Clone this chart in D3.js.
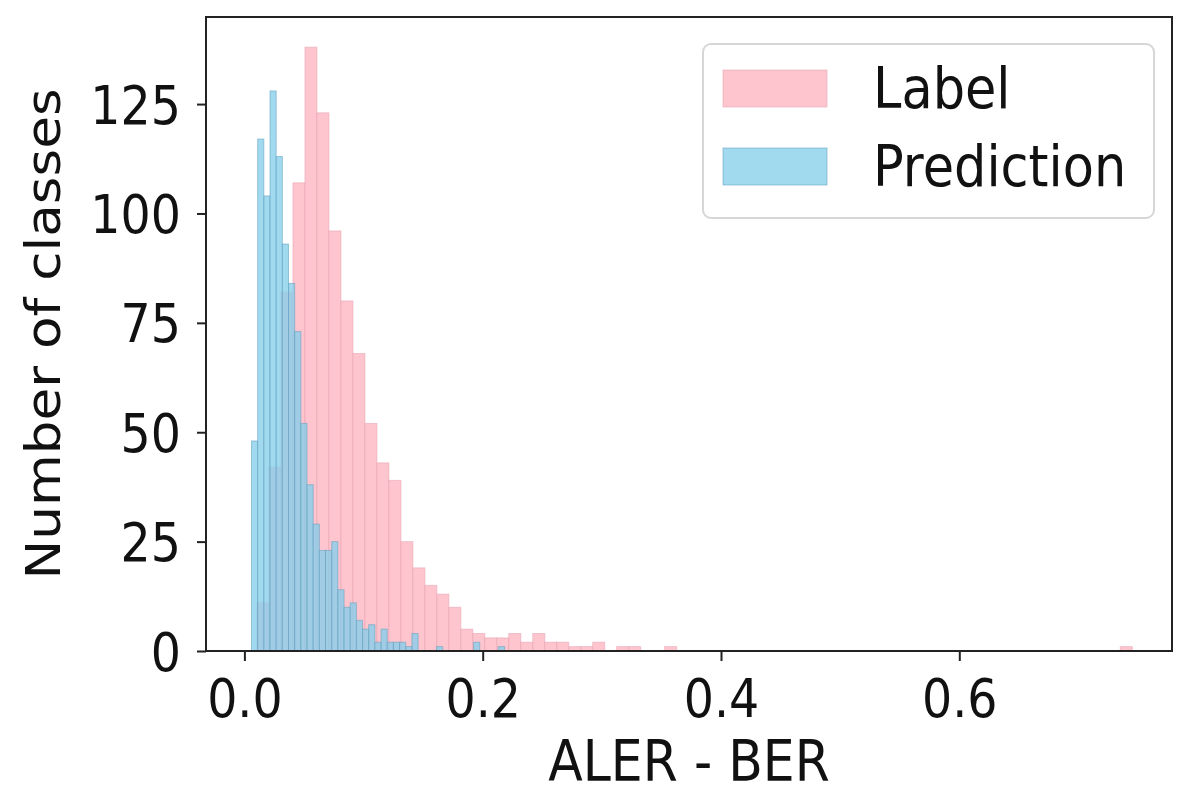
<!DOCTYPE html>
<html>
<head>
<meta charset="utf-8">
<script src="https://cdn.jsdelivr.net/npm/d3@7"></script>
<style>
  html, body { margin: 0; padding: 0; background: #ffffff; }
  svg { display: block; }
  text { font-family: "DejaVu Sans", sans-serif; fill: #111; }
</style>
</head>
<body>
<svg id="chart" width="1196" height="807"></svg>
<script>
// ---------------- data ----------------
const seriesNames = ["Label", "Prediction"];

// "Label" histogram: first bin edge, bin width, counts per bin
const labelStart = 0.01058;
const labelWidth = 0.010063;
const labelCounts = [
  11, 42, 82, 107, 138, 123, 96, 80, 68, 52,
  43, 39, 25, 19, 15, 13, 10, 5, 4, 3,
  3, 4, 2, 4, 2, 2, 1, 1, 2, 0,
  1, 1, 0, 0, 1, 0, 0, 0, 0, 0,
  0, 0, 0, 0, 0, 0, 0, 0, 0, 0,
  0, 0, 0, 0, 0, 0, 0, 0, 0, 0,
  0, 0, 0, 0, 0, 0, 0, 0, 0, 0,
  0, 0, 1
];

// "Prediction" histogram
const predStart = 0.00596;
const predWidth = 0.005178;
const predCounts = [
  48, 117, 104, 128, 113, 93, 84, 73, 52, 38,
  29, 23, 23, 25, 14, 10, 11, 7, 5, 6,
  2, 5, 2, 2, 2, 1, 4, 0, 0, 0,
  1, 0, 0, 0, 0, 0, 2, 0, 0, 0,
  1
];

const xTicks = [0.0, 0.2, 0.4, 0.6];
const yTicks = [0, 25, 50, 75, 100, 125];
const xLabel = "ALER - BER";
const yLabel = "Number of classes";

// ---------------- layout ----------------
const plot = { left: 206, right: 1172, top: 17, bottom: 651 };
const vStretch = 1.12;  // text appears vertically stretched in the reference

const svg = d3.select("#chart");

const toBins = (start, width, counts) =>
  counts.map((c, i) => ({ x0: start + i * width, x1: start + (i + 1) * width, count: c }));

const labelBins = toBins(labelStart, labelWidth, labelCounts);
const predBins = toBins(predStart, predWidth, predCounts);

const x = d3.scaleLinear().domain([-0.03223, 0.77852]).range([plot.left, plot.right]);
const yMax = d3.max(labelCounts.concat(predCounts)) * 1.05;
const y = d3.scaleLinear().domain([0, yMax]).range([plot.bottom, plot.top]);

const colors = {
  Label: { fill: "#FFC0CB", opacity: 0.92, stroke: "#e3a3b0" },
  Prediction: { fill: "#87CEEB", opacity: 0.78, stroke: "#5f9fbd" }
};

function drawBins(bins, c) {
  svg.append("g").selectAll("rect")
    .data(bins.filter(d => d.count > 0))
    .join("rect")
    .attr("x", d => x(d.x0))
    .attr("y", d => y(d.count))
    .attr("width", d => x(d.x1) - x(d.x0))
    .attr("height", d => y(0) - y(d.count))
    .attr("fill", c.fill)
    .attr("fill-opacity", c.opacity)
    .attr("stroke", c.stroke)
    .attr("stroke-opacity", 0.55)
    .attr("stroke-width", 1);
}
drawBins(labelBins, colors.Label);
drawBins(predBins, colors.Prediction);

// ---------------- axes ----------------
const tickFont = 47.5;
const gx = svg.append("g")
  .attr("transform", `translate(0,${plot.bottom})`)
  .call(d3.axisBottom(x).tickValues(xTicks).tickFormat(d3.format(".1f")).tickSize(10).tickPadding(14));
gx.select(".domain").remove();
gx.selectAll(".tick line").attr("stroke", "#222").attr("stroke-width", 2);
gx.selectAll(".tick text")
  .attr("font-size", tickFont)
  .attr("y", 0).attr("dy", null)
  .attr("transform", `scale(1,${vStretch}) translate(0,${(717 - plot.bottom) / vStretch})`)
  .attr("fill", "#111");

const gy = svg.append("g")
  .attr("transform", `translate(${plot.left},0)`)
  .call(d3.axisLeft(y).tickValues(yTicks).tickSize(9).tickPadding(16));
gy.select(".domain").remove();
gy.selectAll(".tick line").attr("stroke", "#222").attr("stroke-width", 2);
gy.selectAll(".tick text")
  .attr("font-size", tickFont)
  .attr("dy", "0.36em")
  .attr("transform", `scale(1,${vStretch})`)
  .attr("fill", "#111");

// spines
svg.append("rect")
  .attr("x", plot.left).attr("y", plot.top)
  .attr("width", plot.right - plot.left).attr("height", plot.bottom - plot.top)
  .attr("fill", "none").attr("stroke", "#222").attr("stroke-width", 2);

// axis labels
svg.append("text")
  .attr("text-anchor", "middle")
  .attr("font-size", 50.5)
  .attr("transform", `translate(${(plot.left + plot.right) / 2},781) scale(1,${vStretch})`)
  .text(xLabel);

svg.append("text")
  .attr("text-anchor", "middle")
  .attr("font-size", 47.5)
  .attr("transform", `translate(60,${(plot.top + plot.bottom) / 2}) scale(1,${vStretch}) rotate(-90)`)
  .text(yLabel);

// ---------------- legend ----------------
const legend = svg.append("g");
legend.append("rect")
  .attr("x", 703).attr("y", 44).attr("width", 451).attr("height", 174)
  .attr("rx", 8).attr("ry", 8)
  .attr("fill", "#fff").attr("fill-opacity", 0.8)
  .attr("stroke", "#d6d6d6").attr("stroke-width", 2);

const legendRows = [
  { name: seriesNames[0], c: colors.Label, top: 70, base: 108 },
  { name: seriesNames[1], c: colors.Prediction, top: 148, base: 186 }
];
legendRows.forEach(r => {
  legend.append("rect")
    .attr("x", 723).attr("y", r.top).attr("width", 104).attr("height", 37)
    .attr("fill", r.c.fill).attr("fill-opacity", r.c.opacity)
    .attr("stroke", r.c.stroke).attr("stroke-opacity", 0.55).attr("stroke-width", 1);
  legend.append("text")
    .attr("font-size", 51)
    .attr("transform", `translate(873,${r.base}) scale(1,${vStretch})`)
    .text(r.name);
});
</script>
</body>
</html>
